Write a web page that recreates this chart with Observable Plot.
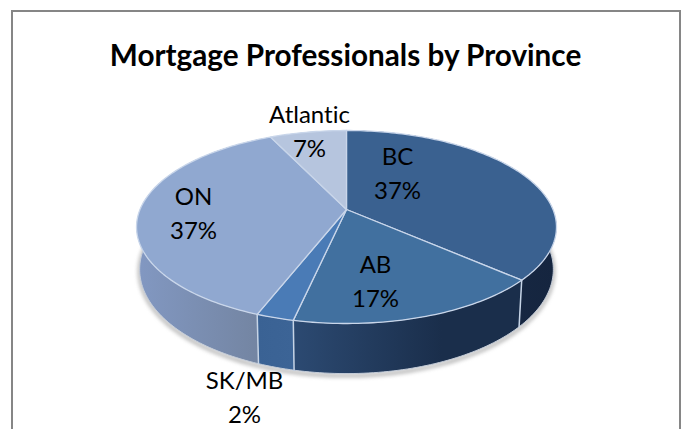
<!DOCTYPE html>
<html>
<head>
<meta charset="utf-8">
<script src="https://cdn.jsdelivr.net/npm/d3@7"></script>
<script src="https://cdn.jsdelivr.net/npm/@observablehq/plot@0.6"></script>
<style>
html,body{margin:0;padding:0;background:#fff;overflow:hidden}
.rim-shadow{filter:blur(2px)}
svg text{font-variant-ligatures:none}
</style>
</head>
<body>
<div id="chart"></div>
<script>
// Data, clockwise from twelve o'clock
const provinces = ["BC", "AB", "SK/MB", "ON", "Atlantic"];
const shares = [36.6, 16.8, 2.45, 37.1, 7.05];

// Styles
const topColors = ["#3a6190", "#41709f", "#4a7bb6", "#90a8d0", "#b6c5de"];
const sideStops = [
  ["#1a2e4b", "#15253f"],
  ["#2c4a72", "#1a2e4b"],
  ["#3a6294", "#3c6496"],
  ["#8298c2", "#72839f"],
  ["#8298c2", "#8298c2"]
];
const labelAnchors = [[397, 171], [375, 279], [244, 395], [193, 211], [309, 129]];

// Pie geometry: a disc seen in perspective
const disc = {cx: 346, cy: 209, a: 206.5, b: 93.33, k: 0.1814, depth: 41, shrink: 0.985};
const project = (t, low = false) => {
  const d = 1 + disc.k * Math.cos(t);
  return {
    x: disc.cx + (low ? disc.shrink : 1) * disc.a * Math.sin(t) / d,
    y: disc.cy - disc.b * Math.cos(t) / d + (low ? disc.depth / d : 0)
  };
};
const arc = (t0, t1, low = false) => {
  const n = Math.max(2, Math.ceil(Math.abs(t1 - t0) / 0.02));
  return d3.range(n + 1).map(i => project(t0 + (t1 - t0) * i / n, low));
};

const total = d3.sum(shares);
let acc = 0;
const slices = provinces.map((name, i) => {
  const t0 = acc / total * 2 * Math.PI;
  acc += shares[i];
  const t1 = acc / total * 2 * Math.PI;
  return {name, i, t0, t1, share: shares[i]};
});
const apex = {x: disc.cx, y: disc.cy};
const topFace = s => [apex, ...arc(s.t0, s.t1)];
const sideFace = s => [...arc(s.t0, s.t1), ...arc(s.t1, s.t0, true)];
const xy = {x: "x", y: "y"};

const defs = () => {
  const svg = d3.create("svg:defs");
  slices.forEach(s => {
    const pts = arc(s.t0, s.t1);
    const g = svg.append("linearGradient")
      .attr("id", "side" + s.i).attr("gradientUnits", "userSpaceOnUse")
      .attr("x1", d3.min(pts, p => p.x)).attr("x2", d3.max(pts, p => p.x))
      .attr("y1", 0).attr("y2", 0);
    g.append("stop").attr("offset", 0).attr("stop-color", sideStops[s.i][0]);
    g.append("stop").attr("offset", s.i === 1 ? 0.65 : 1).attr("stop-color", sideStops[s.i][1]);
  });
  return svg.node();
};

const fmt = d3.format(".0f");
const labels = slices.map(s => ({
  text: s.name + "\n" + fmt(s.share) + "%",
  x: labelAnchors[s.i][0],
  y: labelAnchors[s.i][1]
}));

const plot = Plot.plot({
  width: 681,
  height: 429,
  margin: 0,
  style: {background: "#fff"},
  x: {domain: [0, 681], range: [0, 681], axis: null},
  y: {domain: [0, 429], range: [0, 429], axis: null},
  marks: [
    defs,
    Plot.ruleX([11.5, 679.5], {y1: 10, y2: 429, stroke: "#868686", strokeWidth: 2}),
    Plot.ruleY([10.5], {x1: 11, x2: 681, stroke: "#868686", strokeWidth: 2}),
    Plot.text(["Mortgage Professionals by Province"], {
      x: 345, y: 56, text: d => d, fontFamily: "Lato", fontWeight: 700, fontSize: 29.7, fill: "#000"
    }),
    // soft shadow under the disc
    Plot.line(arc(Math.PI * 0.45, Math.PI * 1.55, true), {
      ...xy, dy: 2, stroke: "#777", strokeWidth: 2.5, strokeOpacity: 0.8, className: "rim-shadow"
    }),
    // side walls
    ...slices.map(s => Plot.line(sideFace(s), {
      ...xy, curve: "linear-closed", fill: `url(#side${s.i})`, stroke: "none"
    })),
    Plot.line(arc(Math.PI * 0.45, Math.PI * 1.55, true), {
      ...xy, stroke: "#c4ccd8", strokeWidth: 1
    }),
    // seams between side walls
    ...slices.slice(0, 3).map(s => Plot.line([project(s.t1), project(s.t1, true)], {
      ...xy, stroke: "#c6d4e6", strokeWidth: 1.5
    })),
    // top faces
    ...slices.map(s => Plot.line(topFace(s), {
      ...xy, curve: "linear-closed", fill: topColors[s.i], stroke: "#c9d6ea", strokeWidth: 1.3, strokeLinejoin: "round"
    })),
    Plot.text(labels, {
      x: "x", y: "y", text: "text", fontFamily: "Lato", fontSize: 24, lineHeight: 1.4, fill: "#000"
    })
  ]
});
document.getElementById("chart").appendChild(plot);
</script>
</body>
</html>
